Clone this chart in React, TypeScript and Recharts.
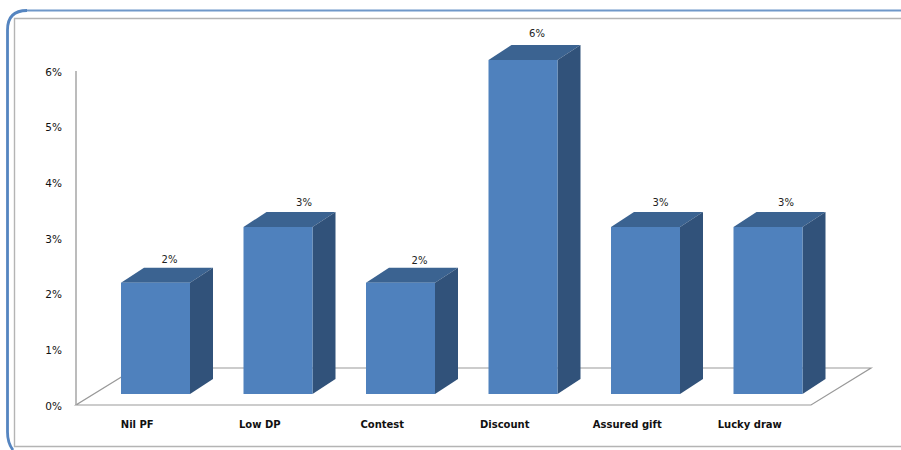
import { BarChart, Bar, XAxis, YAxis, LabelList, ReferenceArea } from 'recharts';

const categories = ['Nil PF', 'Low DP', 'Contest', 'Discount', 'Assured gift', 'Lucky draw'];
const values = [2, 3, 2, 6, 3, 3];
const yTicks = [0, 1, 2, 3, 4, 5, 6];

const chartData = categories.map((name, i) => ({ name, value: values[i] }));

const FONT = '"DejaVu Sans", sans-serif';
const FRONT = '#4f81bd';
const TOP = '#3b6391';
const SIDE = '#31527a';
const AXIS = '#a6a6a6';
const FLOOR = '#999999';

// fake 3D: how far the bars sit in from the floor's front edge, and their extrusion
const SHIFT_X = 18;
const SHIFT_Y = -11;
const DEPTH_X = 23;
const DEPTH_Y = -15;
// floor parallelogram depth
const FLOOR_X = 60;
const FLOOR_Y = -37;

// the value labels don't sit evenly above their bars
const labelNudgeX = [14, 26, 19, 14, 15, 18];
const labelNudgeY = [-5, -6, -4, -8, -6, -6];

const pts = (list: number[][]) => list.map(p => p.join(',')).join(' ');

const Floor = ({ x, y, width, height }: any) => {
  const right = x + width;
  const base = y + height;
  return (
    <polyline
      points={pts([
        [x + FLOOR_X, base + FLOOR_Y],
        [x, base],
        [right, base],
        [right + FLOOR_X, base + FLOOR_Y],
        [x + FLOOR_X, base + FLOOR_Y],
      ])}
      fill="none"
      stroke={FLOOR}
      strokeWidth={1.2}
    />
  );
};

const Bar3D = ({ x, y, width, height }: any) => {
  const l = x + SHIFT_X;
  const r = l + width;
  const t = y + SHIFT_Y;
  const b = t + height;
  return (
    <g>
      <polygon
        points={pts([[l, t], [l + DEPTH_X, t + DEPTH_Y], [r + DEPTH_X, t + DEPTH_Y], [r, t]])}
        fill={TOP}
      />
      <polygon
        points={pts([[r, t], [r + DEPTH_X, t + DEPTH_Y], [r + DEPTH_X, b + DEPTH_Y], [r, b]])}
        fill={SIDE}
      />
      <rect x={l} y={t} width={width} height={height} fill={FRONT} />
    </g>
  );
};

const ValueLabel = ({ x, y, width, value, index }: any) => (
  <text
    x={x + width / 2 + SHIFT_X + labelNudgeX[index]}
    y={y + SHIFT_Y + DEPTH_Y + labelNudgeY[index]}
    textAnchor="middle"
    fontFamily={FONT}
    fontSize={10}
    fill="#222"
  >
    {value}%
  </text>
);

export default function App() {
  return (
    <div style={{ position: 'absolute', left: 0, top: 0, width: 901, height: 450, overflow: 'hidden', background: '#fff' }}>
      {/* slide frame behind the chart: blue rounded edge, then the grey chart border */}
      <svg width={901} height={450} style={{ position: 'absolute', left: 0, top: 0 }}>
        <path d="M 13 450 Q 7.5 443 7.5 432 L 7.5 30 Q 7.5 10.5 27 10.5" fill="none" stroke="#5585c0" strokeWidth={2.8} />
        <path d="M 27 10.5 L 901 10.5" fill="none" stroke="#6f98c9" strokeWidth={2} />
        <path d="M 901 18.5 L 14.5 18.5 L 14.5 446.5 L 901 446.5" fill="none" stroke="#b4b4b4" strokeWidth={1.4} />
      </svg>
      <div style={{ position: 'absolute', left: 0, top: 0 }}>
        <BarChart
          width={901}
          height={450}
          data={chartData}
          barSize={69}
          margin={{ top: 71, right: 90, bottom: 15, left: 36 }}
        >
          <XAxis
            dataKey="name"
            height={30}
            axisLine={false}
            tickLine={false}
            interval={0}
            tickMargin={10}
            tick={{ fontFamily: FONT, fontSize: 10, fontWeight: 600, fill: '#111' }}
          />
          <YAxis
            width={40}
            domain={[0, 6]}
            ticks={yTicks}
            tickFormatter={(v: number) => `${v}%`}
            axisLine={{ stroke: AXIS, strokeWidth: 1.5 }}
            tickLine={false}
            tickMargin={8}
            tick={{ fontFamily: FONT, fontSize: 10.5, fill: '#111', dy: 1 }}
          />
          <ReferenceArea y1={0} y2={6} shape={<Floor />} ifOverflow="visible" />
          <Bar dataKey="value" shape={<Bar3D />} isAnimationActive={false}>
            <LabelList dataKey="value" content={<ValueLabel />} />
          </Bar>
        </BarChart>
      </div>
    </div>
  );
}
